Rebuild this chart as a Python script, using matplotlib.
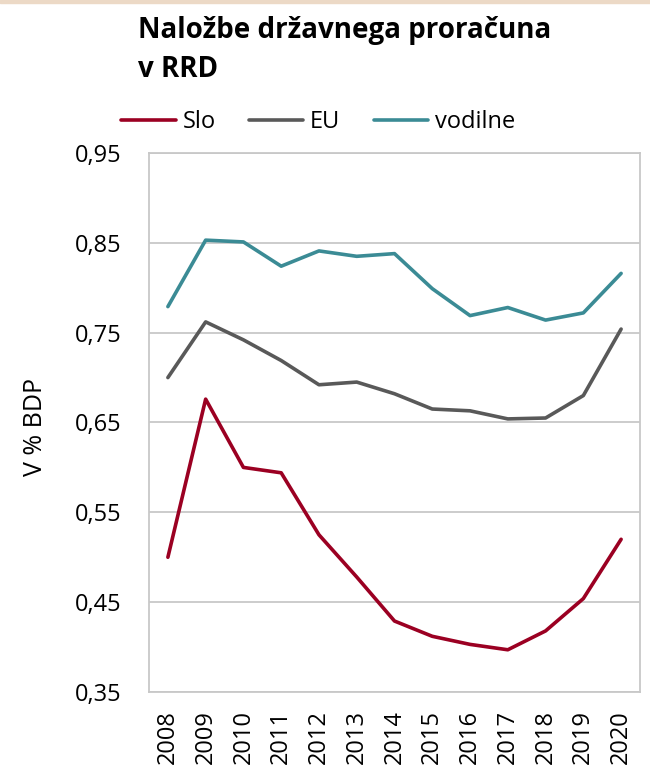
import matplotlib
matplotlib.use("Agg")
import matplotlib.pyplot as plt
import numpy as np

# data (share of GDP)
years = [str(y) for y in range(2008, 2021)]
slo = [0.500, 0.676, 0.600, 0.594, 0.525, 0.478, 0.429, 0.412, 0.403, 0.397, 0.418, 0.454, 0.520]
eu = [0.700, 0.762, 0.742, 0.719, 0.692, 0.695, 0.682, 0.665, 0.663, 0.654, 0.655, 0.680, 0.754]
vodilne = [0.779, 0.853, 0.851, 0.824, 0.841, 0.835, 0.838, 0.799, 0.769, 0.778, 0.764, 0.772, 0.816]
yticks = [0.35, 0.45, 0.55, 0.65, 0.75, 0.85, 0.95]

SERIES = [("Slo", slo, "#9b0022"), ("EU", eu, "#595959"), ("vodilne", vodilne, "#3b8b95")]
GRID = "#c8c8c8"
FS = 17

plt.rcParams["font.family"] = ["Open Sans", "DejaVu Sans"]

fig = plt.figure(figsize=(6.5, 7.8), dpi=100)
ax = fig.add_axes([149 / 650, 1 - 692 / 780, (640 - 149) / 650, (692 - 153) / 780])

x = np.arange(len(years))
for name, vals, col in SERIES:
    ax.plot(x, vals, color=col, lw=2.6, label=name, solid_capstyle="round")

ax.set_xlim(-0.5, len(years) - 0.5)
ax.set_ylim(0.35, 0.95)
ax.set_yticks(yticks)
ax.set_yticklabels([f"{v:.2f}".replace(".", ",") for v in yticks], fontsize=FS)
ax.set_xticks(x)
ax.set_xticklabels(years, rotation=90, fontsize=FS)
ax.tick_params(length=0)
ax.tick_params(axis="x", pad=13)
ax.tick_params(axis="y", pad=20)
ax.yaxis.grid(True, color=GRID, lw=1.3)
ax.set_axisbelow(True)
for s in ax.spines.values():
    s.set_color(GRID)
    s.set_linewidth(1.3)

fig.text(35 / 650, 1 - 427 / 780, "V % BDP", rotation=90, fontsize=FS + 1,
         ha="center", va="center")

fig.text(138 / 650, 1 - 50 / 780, "Naložbe državnega proračuna\nv RRD",
         fontsize=20, fontweight="bold", ha="left", va="center", linespacing=1.45)

fig.legend(loc="center left", bbox_to_anchor=(100 / 650, 1 - 122 / 780), ncol=3,
           frameon=False, fontsize=FS, handlelength=2.3, handletextpad=0.3,
           columnspacing=1.4)

# thin beige strip at the very top, as in the source page
fig.patches.append(plt.Rectangle((0, 1 - 3 / 780), 1, 3 / 780, transform=fig.transFigure,
                                 color="#ecd9c6", zorder=0))

fig.savefig("out.png", dpi=100)
